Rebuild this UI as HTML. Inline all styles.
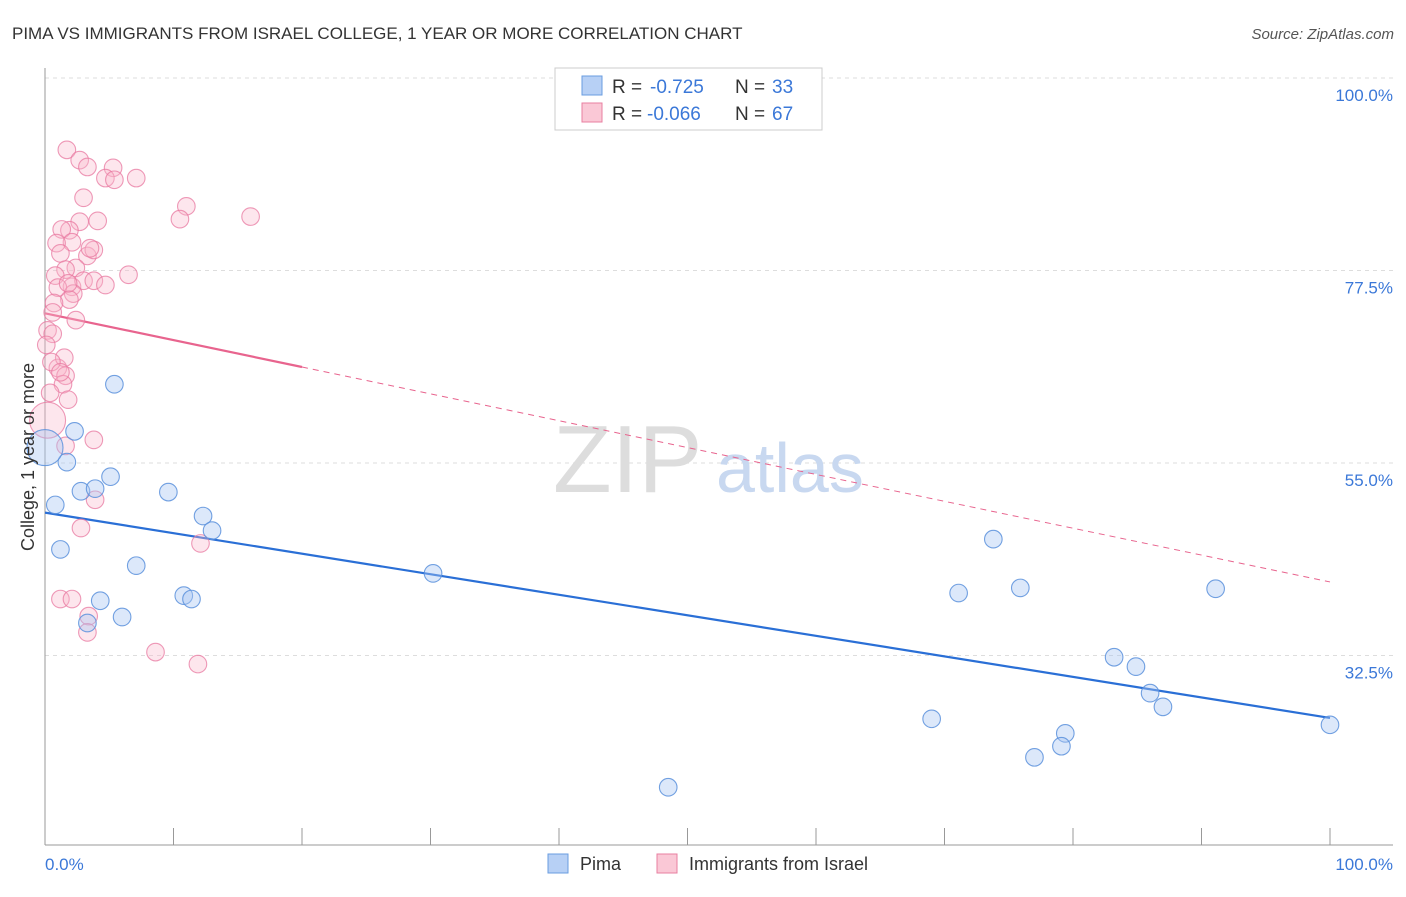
<!DOCTYPE html>
<html><head><meta charset="utf-8"><style>
body{margin:0;background:#fff;font-family:"Liberation Sans",sans-serif;}
svg text{font-family:"Liberation Sans",sans-serif;}
</style></head><body>
<svg width="1406" height="892" viewBox="0 0 1406 892">
<text x="12" y="39" font-size="17" fill="#333">PIMA VS IMMIGRANTS FROM ISRAEL COLLEGE, 1 YEAR OR MORE CORRELATION CHART</text>
<text x="1394" y="39" font-size="15" fill="#555" font-style="italic" text-anchor="end">Source: ZipAtlas.com</text>
<g id="grid"></g>
<g>
<text x="553" y="492" font-size="96" fill="#ddd" font-family="Liberation Serif, serif">ZIP</text>
<text x="716" y="492" font-size="70" fill="#c8d8f0">atlas</text>
</g>
<g id="axes"></g>
<g id="lines"></g>
<g id="pts"></g>
<text transform="translate(34,457) rotate(-90)" font-size="18" fill="#333" text-anchor="middle">College, 1 year or more</text>
<text x="45" y="870" font-size="17" fill="#3b78d8">0.0%</text>
<text x="1393" y="870" font-size="17" fill="#3b78d8" text-anchor="end">100.0%</text>
<g>
<rect x="555" y="68" width="267" height="62" fill="#fff" stroke="#ccc"/>
<rect x="582" y="76" width="20" height="19" fill="#b7d0f5" stroke="#6a9de0"/>
<rect x="582" y="103" width="20" height="19" fill="#fac8d6" stroke="#e87fa0"/>
<text x="612" y="93" font-size="19" fill="#333">R =</text>
<text x="650" y="93" font-size="19" fill="#3b78d8">-0.725</text>
<text x="735" y="93" font-size="19" fill="#333">N =</text>
<text x="772" y="93" font-size="19" fill="#3b78d8">33</text>
<text x="612" y="120" font-size="19" fill="#333">R =</text>
<text x="647" y="120" font-size="19" fill="#3b78d8">-0.066</text>
<text x="735" y="120" font-size="19" fill="#333">N =</text>
<text x="772" y="120" font-size="19" fill="#3b78d8">67</text>
</g>
<g>
<rect x="548" y="854" width="20" height="19" fill="#b7d0f5" stroke="#6a9de0"/>
<text x="580" y="870" font-size="18" fill="#333">Pima</text>
<rect x="657" y="854" width="20" height="19" fill="#fac8d6" stroke="#e87fa0"/>
<text x="689" y="870" font-size="18" fill="#333">Immigrants from Israel</text>
</g>
</svg>
<script>
const yTicks=[100,77.5,55,32.5];
const yTickLabels=["100.0%","77.5%","55.0%","32.5%"];
const xTicks=[0,10,20,30,40,50,60,70,80,90,100];
const pimaX=[5.4,2.3,1.7,0.8,2.8,3.9,5.1,9.6,12.3,13.0,1.2,7.1,10.8,11.4,4.3,6.0,3.3,30.2,73.8,71.1,75.9,91.1,83.2,84.9,86.0,87.0,69.0,79.4,79.1,77.0,48.5,100,0];
const pimaY=[64.2,58.7,55.1,50.1,51.7,52.0,53.4,51.6,48.8,47.1,44.9,43.0,39.5,39.1,38.9,37.0,36.3,42.1,46.1,39.8,40.4,40.3,32.3,31.2,28.1,26.5,25.1,23.4,21.9,20.6,17.1,24.4,56.8];
const pimaBig=[32];
const isrX=[1.7,2.7,3.3,5.3,4.7,5.4,3.0,7.1,11.0,10.5,16.0,2.7,4.1,1.9,1.3,2.1,0.9,1.2,3.3,3.8,2.4,1.6,0.8,2.1,3.0,3.8,4.7,6.5,1.0,2.2,1.9,0.7,0.6,2.4,0.2,0.6,0.1,1.0,1.6,1.4,0.4,1.8,0.2,1.6,3.8,2.8,1.2,2.1,3.4,3.3,8.6,11.9,3.9,12.1,1.5,0.5,1.2,3.5,1.8];
const isrY=[91.6,90.4,89.6,89.5,88.3,88.1,86.0,88.3,85.0,83.5,83.8,83.2,83.3,82.2,82.3,80.8,80.7,79.5,79.2,79.9,77.8,77.6,76.9,75.6,76.3,76.3,75.8,77.0,75.5,74.8,74.1,73.7,72.6,71.7,70.5,70.1,68.8,66.1,65.2,64.2,63.2,62.4,60.0,57.0,57.7,47.4,39.1,39.1,37.1,35.2,32.9,31.5,50.7,45.6,67.3,66.8,65.6,80.1,76.0];
const isrBig=[42];
const pimaTrend=[49.2,25.2];
const isrTrend=[72.5,41.1];
const isrSolidEnd=20;
const X=v=>45+v*12.85, Y=v=>463-(v-55)*8.556;
const NS="http://www.w3.org/2000/svg";
function mk(t,a,p){const e=document.createElementNS(NS,t);for(const k in a)e.setAttribute(k,a[k]);p.appendChild(e);return e;}
const grid=document.getElementById('grid');
yTicks.forEach((v,i)=>{
 const l=mk('line',{x1:45,x2:1393,y1:Y(v),y2:Y(v),stroke:'#ddd','stroke-dasharray':'4,4'},grid);
 
 
 const t=mk('text',{x:1393,y:Y(v)+23,'font-size':17,fill:'#3b78d8','text-anchor':'end'},grid);
 t.textContent=yTickLabels[i];
 
 
});
const axes=document.getElementById('axes');
const ax=mk('line',{x1:45,x2:45,y1:68,y2:845,stroke:'#999'},axes);


const bx=mk('line',{x1:45,x2:1393,y1:845,y2:845,stroke:'#999'},axes);


xTicks.forEach(v=>{const t=mk('line',{x1:X(v),x2:X(v),y1:828,y2:845,stroke:'#999'},axes);
 
 });
const pts=document.getElementById('pts');
function draw(xs,ys,big,fill,stroke,name){xs.forEach((x,i)=>{const c=mk('circle',{cx:X(x),cy:Y(ys[i]),r:big.includes(i)?18:8.8,fill:fill,stroke:stroke,'stroke-width':1.1},pts);
 
 });}
draw(isrX,isrY,isrBig,'rgba(248,182,202,0.35)','rgba(232,120,160,0.75)','israel-point');
draw(pimaX,pimaY,pimaBig,'rgba(168,198,242,0.4)','rgba(90,145,220,0.85)','pima-point');
const lines=document.getElementById('lines');
const iy=x=>isrTrend[0]+(isrTrend[1]-isrTrend[0])*x/100;
let l1=mk('line',{x1:X(0),y1:Y(isrTrend[0]),x2:X(isrSolidEnd),y2:Y(iy(isrSolidEnd)),stroke:'#e8648e','stroke-width':2.2},lines);


let l2=mk('line',{x1:X(isrSolidEnd),y1:Y(iy(isrSolidEnd)),x2:X(100),y2:Y(isrTrend[1]),stroke:'#e8648e','stroke-width':1,'stroke-dasharray':'6,5'},lines);


let l3=mk('line',{x1:X(0),y1:Y(pimaTrend[0]),x2:X(100),y2:Y(pimaTrend[1]),stroke:'#2a6fd6','stroke-width':2.2},lines);


</script>
</body></html>
